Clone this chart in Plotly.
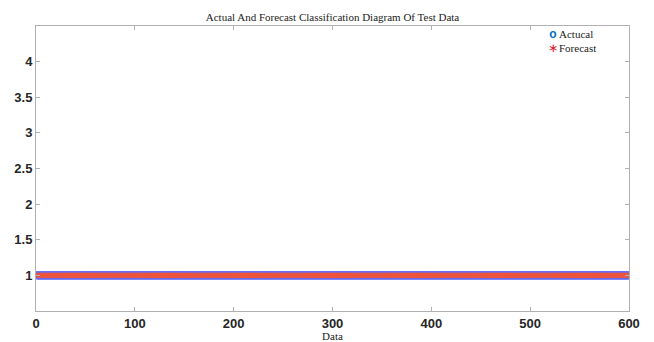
import plotly.graph_objects as go

# Test-set samples and their class labels
sample_index = list(range(1, 601))
actual_class = [1] * 600
forecast_class = [1] * 600

x_ticks = [0, 100, 200, 300, 400, 500, 600]
y_ticks = [1, 1.5, 2, 2.5, 3, 3.5, 4]
y_tick_text = ["1", "1.5", "2", "2.5", "3", "3.5", "4"]

legend_names = ["Actucal", "Forecast"]
actual_color = "#0072BD"
forecast_color = "#E8112D"

fig = go.Figure()
fig.add_trace(go.Scatter(
    x=sample_index, y=actual_class, mode="markers", name=legend_names[0],
    marker=dict(symbol="circle-open", size=6.5,
                line=dict(width=1.6, color=actual_color)),
))
fig.add_trace(go.Scatter(
    x=sample_index, y=forecast_class, mode="markers", name=legend_names[1],
    marker=dict(symbol="asterisk-open", size=4.5,
                line=dict(width=1, color=forecast_color)),
))

axis_common = dict(
    showgrid=False, zeroline=False, showline=True, mirror="ticks",
    linecolor="#B0B0B0", linewidth=1, ticks="inside", ticklen=4,
    tickcolor="#B0B0B0", automargin=False,
    tickfont=dict(family="Liberation Sans, Arial", size=13, color="#262626",
                  weight="bold"),
)

serif = "Liberation Serif, Times New Roman"

# Compact MATLAB-style legend in the upper-right corner of the axes
plot_left, plot_w, plot_bottom, plot_h = 36, 593, 311, 285
legend_y = (plot_bottom - 41.5) / plot_h
marker_lines = "<br>".join([
    f"<span style='color:{actual_color};font-family:Liberation Sans;font-size:12px'><b>o</b></span>",
    f"<span style='color:{forecast_color};font-family:DejaVu Sans;font-size:12px'>∗</span>",
])
annotations = [
    dict(text=marker_lines, xref="paper", yref="paper", showarrow=False,
         x=(553 - plot_left) / plot_w, y=legend_y, xanchor="center",
         yanchor="middle", width=8, borderpad=0,
         font=dict(family=serif, size=10.5, color="#222222")),
    dict(text="<br>".join(legend_names), xref="paper", yref="paper",
         showarrow=False, x=(558 - plot_left) / plot_w, y=legend_y,
         xanchor="left", yanchor="middle", align="left", borderpad=0,
         font=dict(family=serif, size=11, color="#222222")),
]

fig.update_layout(
    width=654, height=342,
    margin=dict(l=36, r=25, t=26, b=31),
    paper_bgcolor="white", plot_bgcolor="white",
    showlegend=False,
    title=dict(text="Actual And Forecast Classification Diagram Of Test Data",
               font=dict(family=serif, size=11, color="#222222"),
               x=0.5, xref="paper", xanchor="center", y=1, yref="paper",
               yanchor="bottom", pad=dict(b=5)),
    xaxis=dict(range=[0, 600], tickvals=x_ticks,
               title=dict(text="Data", standoff=5,
                          font=dict(family=serif, size=11, color="#222222")),
               **axis_common),
    yaxis=dict(range=[0.5, 4.5], tickvals=y_ticks, ticktext=y_tick_text,
               **axis_common),
    annotations=annotations,
)

fig.write_html("out.html")
